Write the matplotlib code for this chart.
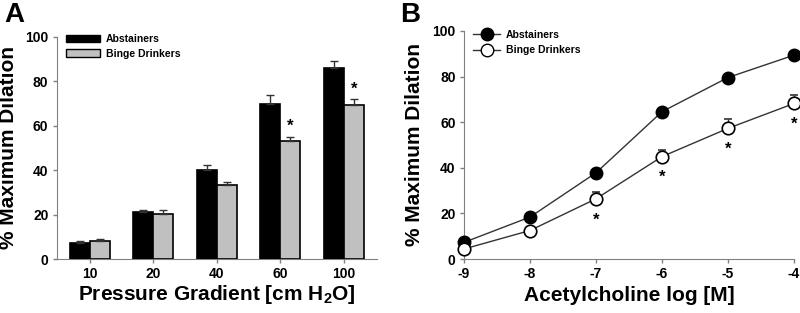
import numpy as np
import matplotlib
matplotlib.use('Agg')
import matplotlib.pyplot as plt
from matplotlib.patches import Patch
from matplotlib.lines import Line2D

plt.rcParams['font.family'] = ['Liberation Sans', 'DejaVu Sans']
plt.rcParams['font.weight'] = 'bold'
plt.rcParams['axes.unicode_minus'] = False
plt.rcParams['mathtext.fontset'] = 'custom'
plt.rcParams['mathtext.rm'] = 'Liberation Sans:bold'
plt.rcParams['mathtext.bf'] = 'Liberation Sans:bold'

# Panel A data
pressure = ['10', '20', '40', '60', '100']
abst_bar = [7.4, 21.0, 40.3, 69.9, 86.2]
abst_bar_err = [0.9, 0.9, 1.9, 3.8, 2.9]
binge_bar = [8.3, 20.3, 33.2, 53.1, 69.3]
binge_bar_err = [0.9, 1.7, 1.7, 2.0, 2.7]
star_bar = [60, 100]

# Panel B data
ach = [-9, -8, -7, -6, -5, -4]
abst_line = [7.3, 18.4, 37.8, 64.6, 79.6, 89.4]
abst_line_err = [0.5, 0.8, 1.0, 1.8, 1.0, 1.0]
binge_line = [4.4, 12.5, 26.4, 44.9, 57.3, 68.2]
binge_line_err = [0.5, 0.8, 3.0, 2.9, 4.1, 3.8]
star_line = [-7, -6, -5, -4]

SPINE = '#808080'

fig = plt.figure(figsize=(8, 3.13), dpi=100)
axA = fig.add_axes([0.071, 0.1725, 0.40, 0.7095])
axB = fig.add_axes([0.58, 0.1725, 0.4125, 0.7285])

# ---- Panel A ----
x = np.arange(len(pressure))
w = 0.315
ekw = dict(ecolor='#333333', elinewidth=1, capsize=3, capthick=1)
axA.bar(x - w / 2, abst_bar, w, color='black', edgecolor='black', linewidth=1.2,
        yerr=[np.zeros(5), abst_bar_err], error_kw=ekw, zorder=3)
axA.bar(x + w / 2, binge_bar, w, color='#c0c0c0', edgecolor='black', linewidth=1.2,
        yerr=[np.zeros(5), binge_bar_err], error_kw=ekw, zorder=3)
for p in star_bar:
    i = pressure.index(str(p))
    axA.text(x[i] + w / 2, binge_bar[i] + binge_bar_err[i] + 1.2, '*', ha='center', va='bottom',
             fontsize=12, fontweight='bold')

axA.set_xlim(-0.52, 4.52)
axA.set_ylim(0, 100)
axA.set_xticks(x)
axA.set_xticklabels(pressure)
axA.set_yticks(range(0, 101, 20))
axA.set_xlabel('Pressure Gradient [cm H$_\\mathrm{2}$O]', fontsize=15, fontweight='bold', labelpad=1)
axA.set_ylabel('% Maximum Dilation', fontsize=15, fontweight='bold', labelpad=5)
axA.legend(handles=[Patch(facecolor='black', edgecolor='black'),
                    Patch(facecolor='#c0c0c0', edgecolor='black')],
           labels=['Abstainers', 'Binge Drinkers'], loc='upper left',
           bbox_to_anchor=(0.0, 1.055), frameon=False,
           handlelength=3.2, handleheight=0.7, handletextpad=0.6, labelspacing=0.45,
           prop={'weight': 'bold', 'size': 7.5})

# ---- Panel B ----
axB.errorbar(ach, abst_line, yerr=[np.zeros(6), abst_line_err], color='#333333', lw=1,
             marker='o', markersize=9, markerfacecolor='black', markeredgecolor='black',
             ecolor='#333333', capsize=3, clip_on=False, zorder=3)
axB.errorbar(ach, binge_line, yerr=[np.zeros(6), binge_line_err], color='#333333', lw=1,
             marker='o', markersize=9, markerfacecolor='white', markeredgecolor='black',
             markeredgewidth=1.2, ecolor='#333333', capsize=3, clip_on=False, zorder=4)
for xv in star_line:
    i = ach.index(xv)
    axB.text(xv, binge_line[i] - 12.5, '*', ha='center', va='bottom', fontsize=12, fontweight='bold')

axB.set_xlim(-9, -4)
axB.set_ylim(0, 100)
axB.set_xticks(ach)
axB.set_yticks(range(0, 101, 20))
axB.set_xlabel('Acetylcholine log [M]', fontsize=15, fontweight='bold', labelpad=3)
axB.set_ylabel('% Maximum Dilation', fontsize=15, fontweight='bold', labelpad=6)
axB.legend(handles=[Line2D([], [], color='#333333', lw=1, marker='o', markersize=9,
                           markerfacecolor='black', markeredgecolor='black'),
                    Line2D([], [], color='#333333', lw=1, marker='o', markersize=9,
                           markerfacecolor='white', markeredgecolor='black')],
           labels=['Abstainers', 'Binge Drinkers'], loc='upper left',
           bbox_to_anchor=(0.0, 1.045), frameon=False, handlelength=2.6,
           handletextpad=0.5, labelspacing=0.5, prop={'weight': 'bold', 'size': 7.5})

for ax in (axA, axB):
    ax.spines['top'].set_visible(False)
    ax.spines['right'].set_visible(False)
    ax.spines['left'].set_color(SPINE)
    ax.spines['bottom'].set_color(SPINE)
    ax.tick_params(colors=SPINE, labelcolor='black', labelsize=10, length=3, width=1, pad=3)
    for lbl in ax.get_xticklabels() + ax.get_yticklabels():
        lbl.set_fontweight('bold')
axA.spines['bottom'].set_bounds(-0.57, 4.52)

fig.text(0.005, 0.995, 'A', fontsize=20, fontweight='bold', va='top', ha='left')
fig.text(0.5, 0.995, 'B', fontsize=20, fontweight='bold', va='top', ha='left')

fig.savefig('out.png', dpi=100)
